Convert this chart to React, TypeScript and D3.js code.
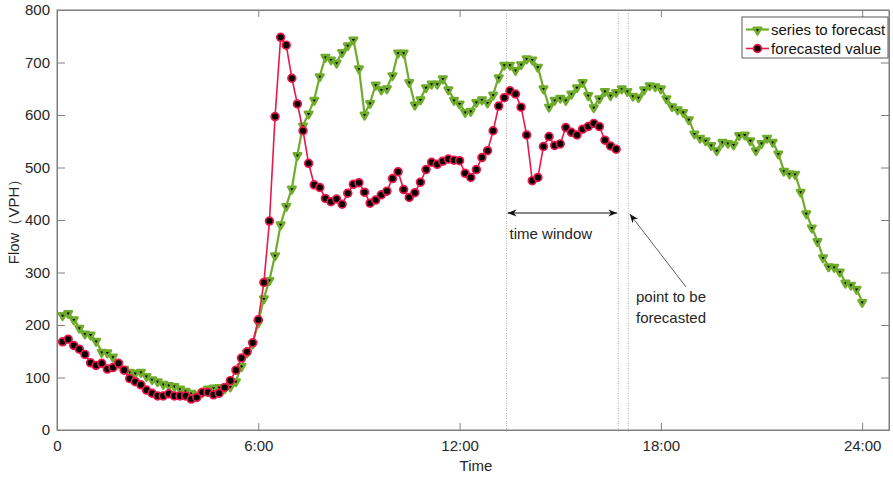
import React, { useEffect, useRef } from "react";
import * as d3 from "d3";

// 10-minute samples, first one at 0:10
const seriesToForecast = [
  219, 223, 211, 195, 184, 182, 170, 149, 148, 140, 127, 117, 111, 109, 111, 103, 97, 93, 88, 86, 84, 79, 75, 71,
  68, 72, 79, 81, 82, 80, 83, 93, 122, 148, 165,
  205, 251, 286, 333, 392, 427, 460, 524, 580,
  603, 629, 674, 711, 706, 700, 720, 733, 744, 689, 601, 623, 658, 649, 651, 676, 719, 719, 663, 620, 630, 653,
  660, 660, 670, 649, 629, 622, 606, 608, 625, 630, 624, 639, 672, 696, 696, 686, 697, 708, 706, 692, 651, 616,
  629, 633, 629, 641, 653,
  663, 638, 615, 632, 646, 638, 644, 651, 646, 637, 634, 649, 657, 655, 651, 632, 617, 611, 606, 592, 565, 557,
  552, 543, 533, 549, 547, 544, 562, 563, 552, 533, 547, 557, 549, 527, 494, 489, 488,
  454, 413, 386, 360, 329, 312, 311, 302, 281, 277, 269, 244,
];

const forecastedValue = [
  168, 173, 161, 154, 144, 128, 123, 127, 116, 119, 127, 114, 98, 92, 86, 76, 70, 65, 65, 69, 65, 65, 65, 59,
  62, 72, 72, 67, 70, 81, 94, 114, 137, 149, 166, 210,
  281, 398, 597, 748, 733, 670, 621, 570, 508, 467, 462, 441, 435, 440, 430, 451, 468, 471, 453, 432, 438, 448,
  455, 479, 492, 458, 443, 452, 472, 496, 510, 506, 512, 516, 514, 513, 489, 481, 496, 519, 532, 570, 617, 633,
  646, 640, 615, 562, 475, 481, 540, 559, 542, 545, 576, 567, 562, 573, 578, 584, 578, 552, 541, 535,
];

const xTicks = [0, 6, 12, 18, 24];
const xTickLabels = ["0", "6:00", "12:00", "18:00", "24:00"];
const yTicks = [0, 100, 200, 300, 400, 500, 600, 700, 800];
const windowLines = [13.4, 16.73, 17.03]; // hours
const legendLabels = ["series to forecast", "forecasted value"];

const GREEN = "#6fac2c";
const RED = "#e8194a";
const AXIS = "#7f7f7f";
const TEXT = "#262626";
const FONT = "'Liberation Sans', Arial, sans-serif";

const App = () => {
  const ref = useRef<SVGSVGElement>(null);

  useEffect(() => {
    const svg = d3.select(ref.current);
    svg.selectAll("*").remove();

    const x = d3.scaleLinear().domain([0, 24.8]).range([57, 889]);
    const y = d3.scaleLinear().domain([0, 800]).range([430, 10]);
    const t = (i: number) => (i + 1) / 6;

    // arrow marker
    const defs = svg.append("defs");
    defs
      .append("marker")
      .attr("id", "head")
      .attr("viewBox", "0 0 10 10")
      .attr("refX", 10)
      .attr("refY", 5)
      .attr("markerWidth", 9)
      .attr("markerHeight", 9)
      .attr("markerUnits", "userSpaceOnUse")
      .attr("orient", "auto-start-reverse")
      .append("path")
      .attr("d", "M0,1 L10,5 L0,9 L3,5 Z")
      .attr("fill", "#111");

    // frame
    svg
      .append("rect")
      .attr("x", x(0))
      .attr("y", y(800))
      .attr("width", x(24.8) - x(0))
      .attr("height", y(0) - y(800))
      .attr("fill", "none")
      .attr("stroke", AXIS)
      .attr("stroke-width", 1);

    // axes
    const bottom = svg
      .append("g")
      .attr("transform", `translate(0,${y(0)})`)
      .call(
        d3
          .axisBottom(x)
          .tickValues(xTicks)
          .tickFormat((d, i) => xTickLabels[i])
          .tickSize(-7)
          .tickSizeOuter(0)
          .tickPadding(10)
      );
    svg
      .append("g")
      .attr("transform", `translate(0,${y(800)})`)
      .call(d3.axisTop(x).tickValues(xTicks).tickFormat(() => "").tickSize(-7).tickSizeOuter(0));
    const left = svg
      .append("g")
      .attr("transform", `translate(${x(0)},0)`)
      .call(d3.axisLeft(y).tickValues(yTicks).tickFormat(d3.format("d")).tickSize(-8).tickSizeOuter(0).tickPadding(7));
    svg
      .append("g")
      .attr("transform", `translate(${x(24.8)},0)`)
      .call(d3.axisRight(y).tickValues(yTicks).tickFormat(() => "").tickSize(-8).tickSizeOuter(0));

    svg.selectAll(".domain").attr("stroke", AXIS);
    svg.selectAll(".tick line").attr("stroke", AXIS);
    [bottom, left].forEach((g) =>
      g.selectAll("text").attr("fill", TEXT).style("font-family", FONT).style("font-size", "15px")
    );

    // dotted window lines
    svg
      .selectAll(".vline")
      .data(windowLines)
      .enter()
      .append("line")
      .attr("x1", (d) => x(d))
      .attr("x2", (d) => x(d))
      .attr("y1", y(800) + 3)
      .attr("y2", y(0) + 2)
      .attr("stroke", "#9a9a9a")
      .attr("stroke-width", 0.8)
      .attr("stroke-dasharray", "1,1.5");

    // series to forecast
    svg
      .append("path")
      .datum(seriesToForecast)
      .attr("fill", "none")
      .attr("stroke", GREEN)
      .attr("stroke-width", 2.2)
      .attr(
        "d",
        d3
          .line<number>()
          .x((d, i) => x(t(i)))
          .y((d) => y(d))
      );
    const tri = d3.symbol().type(d3.symbolTriangle).size(24);
    svg
      .append("g")
      .selectAll("path")
      .data(seriesToForecast)
      .enter()
      .append("path")
      .attr("d", tri)
      .attr("transform", (d, i) => `translate(${x(t(i))},${y(d) + 0.5}) rotate(180)`)
      .attr("fill", "#000")
      .attr("stroke", GREEN)
      .attr("stroke-width", 2.6)
      .attr("stroke-linejoin", "round");

    // forecasted value
    svg
      .append("path")
      .datum(forecastedValue)
      .attr("fill", "none")
      .attr("stroke", RED)
      .attr("stroke-width", 1.6)
      .attr(
        "d",
        d3
          .line<number>()
          .x((d, i) => x(t(i)))
          .y((d) => y(d))
      );
    svg
      .append("g")
      .selectAll("circle")
      .data(forecastedValue)
      .enter()
      .append("circle")
      .attr("cx", (d, i) => x(t(i)))
      .attr("cy", (d) => y(d))
      .attr("r", 3.9)
      .attr("fill", "#000")
      .attr("stroke", RED)
      .attr("stroke-width", 1.7);

    // annotations
    svg
      .append("line")
      .attr("x1", x(windowLines[0]) + 1)
      .attr("x2", x(windowLines[1]) - 1)
      .attr("y1", 213)
      .attr("y2", 213)
      .attr("stroke", "#111")
      .attr("stroke-width", 1)
      .attr("marker-start", "url(#head)")
      .attr("marker-end", "url(#head)");
    svg
      .append("text")
      .attr("x", x(windowLines[0]) + 3)
      .attr("y", 238.5)
      .attr("fill", TEXT)
      .style("font-family", FONT)
      .style("font-size", "15px")
      .text("time window");
    svg
      .append("line")
      .attr("x1", 686)
      .attr("y1", 287)
      .attr("x2", x(windowLines[2]) + 1.5)
      .attr("y2", 214)
      .attr("stroke", "#333")
      .attr("stroke-width", 0.8)
      .attr("marker-end", "url(#head)");
    svg
      .append("text")
      .attr("x", 636)
      .attr("y", 302)
      .attr("fill", TEXT)
      .style("font-family", FONT)
      .style("font-size", "15px")
      .text("point to be");
    svg
      .append("text")
      .attr("x", 636)
      .attr("y", 322.5)
      .attr("fill", TEXT)
      .style("font-family", FONT)
      .style("font-size", "15px")
      .text("forecasted");

    // axis titles
    svg
      .append("text")
      .attr("x", 476)
      .attr("y", 470.5)
      .attr("text-anchor", "middle")
      .attr("fill", TEXT)
      .style("font-family", FONT)
      .style("font-size", "15px")
      .text("Time");
    svg
      .append("text")
      .attr("transform", "translate(19,218) rotate(-90)")
      .attr("text-anchor", "middle")
      .attr("fill", TEXT)
      .style("font-family", FONT)
      .style("font-size", "15px")
      .text("Flow（VPH）");

    // legend
    const lg = svg.append("g");
    lg.append("rect")
      .attr("x", 742)
      .attr("y", 17)
      .attr("width", 146)
      .attr("height", 41)
      .attr("fill", "#fff")
      .attr("stroke", "#333")
      .attr("stroke-width", 0.8);
    const rows = [29.5, 48.5];
    lg.append("line").attr("x1", 746).attr("x2", 769).attr("y1", rows[0]).attr("y2", rows[0]).attr("stroke", GREEN).attr("stroke-width", 2.2);
    lg.append("path")
      .attr("d", tri)
      .attr("transform", `translate(757.5,${rows[0] + 0.5}) rotate(180)`)
      .attr("fill", "#000")
      .attr("stroke", GREEN)
      .attr("stroke-width", 2.6)
      .attr("stroke-linejoin", "round");
    lg.append("line").attr("x1", 746).attr("x2", 769).attr("y1", rows[1]).attr("y2", rows[1]).attr("stroke", RED).attr("stroke-width", 1.6);
    lg.append("circle").attr("cx", 757.5).attr("cy", rows[1]).attr("r", 3.9).attr("fill", "#000").attr("stroke", RED).attr("stroke-width", 1.7);
    legendLabels.forEach((label, i) => {
      lg.append("text")
        .attr("x", 771)
        .attr("y", rows[i] + 5.3)
        .attr("fill", "#111")
        .style("font-family", FONT)
        .style("font-size", "15px")
        .text(label);
    });
  }, []);

  return (
    <svg
      ref={ref}
      width={893}
      height={479}
      style={{ position: "absolute", left: 0, top: 0, background: "#fff" }}
    />
  );
};

export default App;
